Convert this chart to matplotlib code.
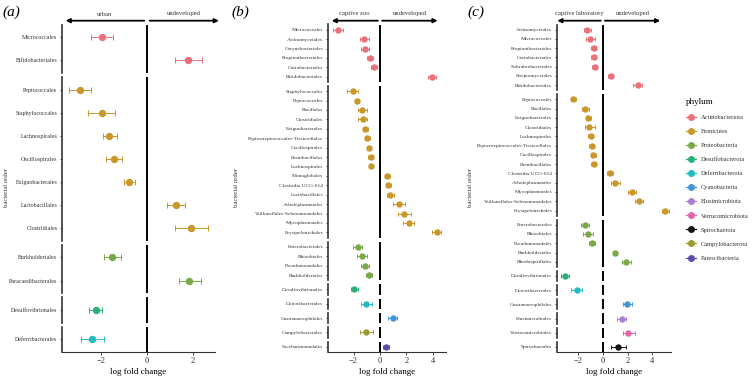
import matplotlib.pyplot as plt
from matplotlib.lines import Line2D
from matplotlib.transforms import blended_transform_factory

plt.rcParams['font.family'] = ['Liberation Serif', 'DejaVu Serif']

phylum_order = ['Actinobacteriota', 'Firmicutes', 'Proteobacteria', 'Desulfobacterota',
                'Deferribacterota', 'Cyanobacteria', 'Elusimicrobiota', 'Verrucomicrobiota',
                'Spirochaetota', 'Campylobacterota', 'Patescibacteria']
phylum_colors = ['#e8717a', '#c9972a', '#79a948', '#2bb07a', '#22bcc0', '#3f95d6',
                 '#a97fd1', '#e264ae', '#151515', '#9c9a2c', '#5a4ea8']

#panel a : urban vs undeveloped
a_order = ['Micrococcales', 'Bifidobacteriales',
           'Peptococcales', 'Staphylococcales', 'Lachnospirales', 'Oscillospirales',
           'Exiguobacterales', 'Lactobacillales', 'Clostridiales',
           'Burkholderiales', 'Paracaedibacterales',
           'Desulfovibrionales', 'Deferribacterales']
a_phylum = ['Actinobacteriota'] * 2 + ['Firmicutes'] * 7 + ['Proteobacteria'] * 2 + \
           ['Desulfobacterota', 'Deferribacterota']
a_lfc = [-1.97, 1.81, -2.93, -1.98, -1.64, -1.45, -0.77, 1.28, 1.92, -1.53, 1.85, -2.24, -2.39]
a_lo = [-2.45, 1.22, -3.40, -2.56, -1.94, -1.79, -1.00, 0.86, 1.21, -1.89, 1.38, -2.53, -2.90]
a_hi = [-1.47, 2.42, -2.45, -1.40, -1.30, -1.09, -0.54, 1.67, 2.68, -1.15, 2.34, -1.95, -1.89]

#panel b : captive zoo vs undeveloped
b_order = ['Micrococcales', 'Actinomycetales', 'Corynebacteriales', 'Propionibacteriales',
           'Coriobacteriales', 'Bifidobacteriales',
           'Staphylococcales', 'Peptococcales', 'Bacillales', 'Clostridiales', 'Exiguobacterales',
           'Peptostreptococcales-Tissierellales', 'Oscillospirales', 'Paenibacillales',
           'Lachnospirales', 'Monoglobales', 'Clostridia UCG-014', 'Lactobacillales',
           'Acholeplasmatales', 'Veillonellales-Selenomonadales', 'Mycoplasmatales',
           'Erysipelotrichales',
           'Enterobacterales', 'Rhizobiales', 'Pseudomonadales', 'Burkholderiales',
           'Desulfovibrionales', 'Deferribacterales', 'Gastranaerophilales',
           'Campylobacterales', 'Saccharimonadales']
b_phylum = ['Actinobacteriota'] * 6 + ['Firmicutes'] * 16 + ['Proteobacteria'] * 4 + \
           ['Desulfobacterota', 'Deferribacterota', 'Cyanobacteria', 'Campylobacterota',
            'Patescibacteria']
b_lfc = [-3.19, -1.18, -1.11, -0.75, -0.48, 3.90,
         -2.06, -1.74, -1.33, -1.31, -1.11, -0.96, -0.86, -0.70, -0.65, 0.55, 0.63, 0.78,
         1.41, 1.81, 2.16, 4.28,
         -1.69, -1.38, -1.16, -0.83, -1.94, -1.06, 0.96, -1.06, 0.48]
b_lo = [-3.52, -1.51, -1.43, -0.98, -0.68, 3.62,
        -2.49, -1.89, -1.64, -1.64, -1.31, -1.13, -1.01, -0.87, -0.80, 0.38, 0.43, 0.53,
        0.96, 1.36, 1.76, 3.92,
        -2.01, -1.76, -1.46, -1.08, -2.19, -1.46, 0.60, -1.51, 0.25]
b_hi = [-2.82, -0.83, -0.81, -0.53, -0.25, 4.20,
        -1.66, -1.59, -0.98, -0.96, -0.91, -0.79, -0.71, -0.53, -0.50, 0.72, 0.83, 1.03,
        1.86, 2.32, 2.57, 4.63,
        -1.36, -1.00, -0.85, -0.58, -1.69, -0.63, 1.31, -0.55, 0.70]

#panel c : captive laboratory vs undeveloped
c_order = ['Actinomycetales', 'Micrococcales', 'Propionibacteriales', 'Coriobacteriales',
           'Solirubrobacterales', 'Streptomycetales', 'Bifidobacteriales',
           'Peptococcales', 'Bacillales', 'Exiguobacterales', 'Clostridiales', 'Lachnospirales',
           'Peptostreptococcales-Tissierellales', 'Oscillospirales', 'Paenibacillales',
           'Clostridia UCG-014', 'Acholeplasmatales', 'Mycoplasmatales',
           'Veillonellales-Selenomonadales', 'Erysipelotrichales',
           'Enterobacterales', 'Rhizobiales', 'Pseudomonadales', 'Burkholderiales',
           'Rhodospirillales',
           'Desulfovibrionales', 'Deferribacterales', 'Gastranaerophilales', 'Elusimicrobiales',
           'Verrucomicrobiales', 'Spirochaetales']
c_phylum = ['Actinobacteriota'] * 7 + ['Firmicutes'] * 13 + ['Proteobacteria'] * 5 + \
           ['Desulfobacterota', 'Deferribacterota', 'Cyanobacteria', 'Elusimicrobiota',
            'Verrucomicrobiota', 'Spirochaetota']
c_lfc = [-1.25, -1.01, -0.75, -0.75, -0.64, 0.62, 2.82,
         -2.37, -1.41, -1.17, -1.09, -0.96, -0.91, -0.77, -0.75, 0.56, 0.96, 2.35, 2.95, 5.02,
         -1.41, -1.20, -0.88, 0.99, 1.87,
         -3.09, -2.11, 1.97, 1.52, 2.05, 1.25]
c_lo = [-1.52, -1.36, -0.95, -0.95, -0.84, 0.42, 2.47,
        -2.57, -1.71, -1.37, -1.47, -1.16, -1.11, -0.97, -0.95, 0.31, 0.64, 2.05, 2.62, 4.76,
        -1.76, -1.57, -1.15, 0.84, 1.57,
        -3.36, -2.59, 1.63, 1.17, 1.63, 0.64]
c_hi = [-0.93, -0.66, -0.55, -0.55, -0.44, 0.82, 3.19,
        -2.17, -1.09, -0.97, -0.64, -0.76, -0.71, -0.57, -0.55, 0.81, 1.36, 2.65, 3.28, 5.30,
        -1.09, -0.80, -0.61, 1.14, 2.24,
        -2.72, -1.65, 2.35, 1.89, 2.56, 1.89]

W, H = 754, 378
fig = plt.figure(figsize=(W / 100, H / 100), dpi=100)

TOP, BOTTOM = 24.5, 352
PAD = 0.55
GAP = 4
GREY = '#333333'


def draw_panel(order, phylum, lfc, lo, hi, left, right, xlim, xticks, arrow_ends,
               side_label, tag, tag_x, ylab_x, ms, cap, fs):
    groups = [p for p in phylum_order if p in phylum]
    sizes = [phylum.count(p) for p in groups]
    unit = (BOTTOM - TOP - GAP * (len(groups) - 1)) / sum(n - 1 + 2 * PAD for n in sizes)
    y = TOP
    axes = []
    for k, (p, n) in enumerate(zip(groups, sizes)):
        h = (n - 1 + 2 * PAD) * unit
        ax = fig.add_axes([left / W, 1 - (y + h) / H, (right - left) / W, h / H])
        idx = [i for i, q in enumerate(phylum) if q == p]
        col = phylum_colors[phylum_order.index(p)]
        ys = list(range(n))
        xs = [lfc[i] for i in idx]
        err = [[lfc[i] - lo[i] for i in idx], [hi[i] - lfc[i] for i in idx]]
        ax.axvline(0, color='black', lw=1.4, zorder=1)
        ax.errorbar(xs, ys, xerr=err, fmt='o', color=col, ms=ms, elinewidth=0.7,
                    capsize=cap, capthick=0.7, zorder=3)
        ax.set_xlim(xlim)
        ax.set_ylim(n - 1 + PAD, -PAD)
        ax.set_yticks(ys)
        ax.set_yticklabels([order[i] for i in idx])
        ax.tick_params(axis='y', length=1.8, width=0.6, pad=1.5, labelsize=fs,
                       colors=GREY, labelcolor=GREY)
        for s in ['top', 'right']:
            ax.spines[s].set_visible(False)
        ax.spines['left'].set_color(GREY)
        ax.spines['left'].set_linewidth(1.2)
        if k < len(groups) - 1:
            ax.spines['bottom'].set_visible(False)
            ax.tick_params(axis='x', bottom=False, labelbottom=False)
        else:
            ax.spines['bottom'].set_color(GREY)
            ax.spines['bottom'].set_linewidth(0.8)
            ax.set_xticks(xticks)
            ax.set_xticklabels([str(t).replace('-', '\u2212') for t in xticks])
            ax.tick_params(axis='x', length=2, width=0.6, pad=1.5, labelsize=6,
                           colors=GREY, labelcolor=GREY)
            ax.set_xlabel('log fold change', fontsize=6.5, labelpad=2)
        axes.append((ax, h))
        y += h + GAP

    #header arrows above first facet
    ax0, h0 = axes[0]
    tr = blended_transform_factory(ax0.transData, ax0.transAxes)
    ya = 1 + (TOP - 20.7) / h0
    yt = 1 + (TOP - 14.0) / h0
    off = (xlim[1] - xlim[0]) * 0.018
    for end, lab in zip(arrow_ends, [side_label, 'undeveloped']):
        start = off if end > 0 else -off
        ax0.annotate('', xy=(end, ya), xytext=(start, ya), xycoords=tr,
                     arrowprops=dict(arrowstyle='-|>', color='black', lw=1.3,
                                     mutation_scale=6, shrinkA=0, shrinkB=0),
                     annotation_clip=False)
        ax0.text((start + end) / 2, yt, lab, transform=tr, ha='center', va='center',
                 fontsize=4.8, color=GREY)

    fig.text(tag_x / W, 1 - 12 / H, tag, fontsize=11, style='italic', ha='left', va='center')
    fig.text(ylab_x / W, 1 - 188 / H, 'bacterial order', rotation=90, ha='center',
             va='center', fontsize=4.8, color=GREY)


draw_panel(a_order, a_phylum, a_lfc, a_lo, a_hi, 62, 215, (-3.71, 2.97), [-2, 0, 2],
           (-3.55, 3.14), 'urban', '(a)', 2, 7, 4.3, 2.2, 4.3)
draw_panel(b_order, b_phylum, b_lfc, b_lo, b_hi, 327.7, 445.7, (-3.95, 4.96), [-2, 0, 2, 4],
           (-3.65, 4.35), 'captive zoo', '(b)', 231, 236, 3.6, 1.3, 3.9)
draw_panel(c_order, c_phylum, c_lfc, c_lo, c_hi, 556.7, 671, (-3.72, 5.5), [-2, 0, 2, 4],
           (-3.67, 4.63), 'captive laboratory', '(c)', 467, 471, 3.6, 1.3, 3.9)

handles = [Line2D([0], [0], color=c, marker='o', ms=4, lw=0.9) for c in phylum_colors]
leg = fig.legend(handles, phylum_order, loc='upper left', bbox_to_anchor=(680 / W, 1 - 92 / H),
                 frameon=False, title='phylum', fontsize=4.6, title_fontsize=6.5,
                 handlelength=1.6, handletextpad=0.7, labelspacing=1.35, alignment='left')
for t in leg.get_texts():
    t.set_color(GREY)

fig.savefig('out.png', dpi=100)
